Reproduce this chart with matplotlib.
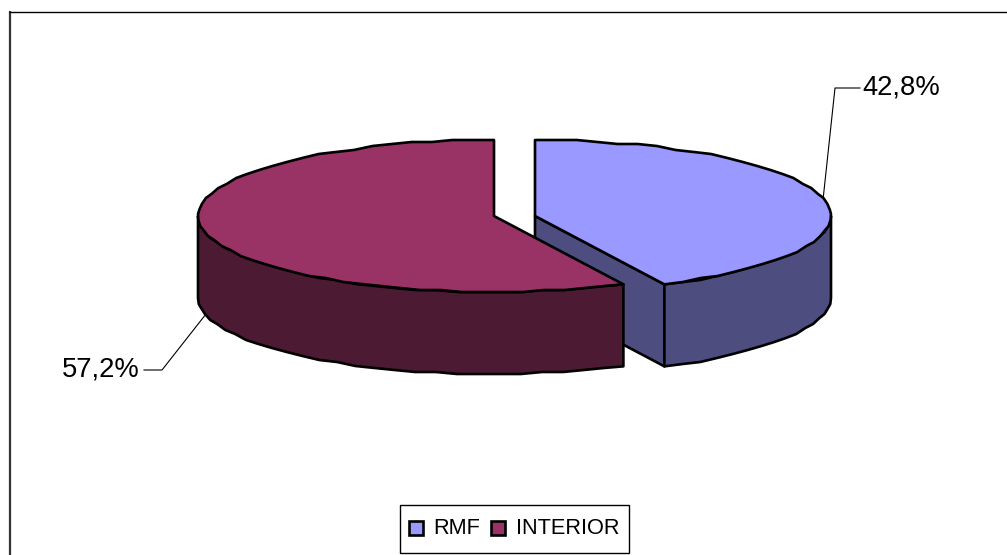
#!/usr/bin/env python3
"""Exploded 3D style pie chart, RMF vs INTERIOR."""

import numpy as np
import matplotlib
matplotlib.use('Agg')
import matplotlib.pyplot as plt
from matplotlib.patches import Polygon, Rectangle

# Chart data
categories = ['RMF', 'INTERIOR']
shares = [42.8, 57.2]
value_labels = ['42,8%', '57,2%']

top_colors = ['#9999FF', '#993366']
side_colors = ['#4D4D80', '#4D1A33']

plt.rcParams['font.family'] = ['Liberation Sans', 'DejaVu Sans']

# pie geometry, in pixels of the picture
RX, RY = 296, 76
DEPTH = 82
CENTER_Y = 216
CENTERS_X = [535, 494]
LW = 1.9


def rim(cx, start, end, drop=0, step=4):
    """Points along the ellipse, angles in degrees clockwise from the top."""
    n = max(int(abs(end - start) / step), 2)
    t = np.radians(np.linspace(start, end, n + 1))
    x = cx + RX * np.sin(t)
    y = CENTER_Y - RY * np.cos(t)
    # the original edge is stepped, not smooth
    y[1:-1] = np.round(y[1:-1] / 2) * 2
    return np.column_stack([x, y + drop])


def add_poly(ax, pts, color, z):
    ax.add_patch(Polygon(pts, closed=True, facecolor=color, edgecolor='black',
                         linewidth=LW, joinstyle='round', zorder=z))


fig = plt.figure(figsize=(10.07, 5.55), dpi=100)
ax = fig.add_axes([0, 0, 1, 1])
ax.set_xlim(0, 1007)
ax.set_ylim(555, 0)
ax.axis('off')

# outer frame
ax.plot([9.5, 9.5], [555, 11], color='#333333', linewidth=1.6, zorder=1,
        solid_capstyle='butt')
ax.plot([9, 1007], [11.5, 11.5], color='black', linewidth=1.0, zorder=1,
        solid_capstyle='butt')

cut = shares[0] / sum(shares) * 360

# RMF slice goes clockwise from the top
cx = CENTERS_X[0]
edge = rim(cx, cut, cut)[0]
add_poly(ax, [(cx, CENTER_Y), edge, edge + [0, DEPTH], (cx, CENTER_Y + DEPTH)], side_colors[0], 2)
front = rim(cx, 90, cut)
add_poly(ax, np.vstack([front, rim(cx, cut, 90, DEPTH)]), side_colors[0], 3)
add_poly(ax, np.vstack([[(cx, CENTER_Y)], rim(cx, 0, cut)]), top_colors[0], 4)

# INTERIOR slice fills the rest of the circle
cx = CENTERS_X[1]
front = rim(cx, cut, 270)
add_poly(ax, np.vstack([front, rim(cx, 270, cut, DEPTH)]), side_colors[1], 5)
add_poly(ax, np.vstack([[(cx, CENTER_Y)], rim(cx, cut, 360)]), top_colors[1], 6)

# data labels with leader lines
ax.plot([823, 835, 860], [200, 88, 88], color='black', linewidth=0.8, zorder=3.5)
ax.plot([206, 162, 144], [314, 370, 370], color='black', linewidth=0.8, zorder=4.5)
ax.text(862, 87, value_labels[0], fontsize=19.7, ha='left', va='center', color='black')
ax.text(139.5, 369, value_labels[1], fontsize=19.7, ha='right', va='center', color='black')

# legend
ax.add_patch(Rectangle((400, 505), 229, 48, facecolor='white', edgecolor='black',
                       linewidth=1.0, zorder=7))
for name, color, sx, tx in zip(categories, top_colors, [409, 491], [433, 516]):
    ax.add_patch(Rectangle((sx, 521), 14, 14, facecolor=color, edgecolor='black',
                           linewidth=1.9, zorder=8))
    ax.text(tx, 528, name, fontsize=15.7, ha='left', va='center', color='black', zorder=8)

fig.savefig('out.png', dpi=100, facecolor='white')
